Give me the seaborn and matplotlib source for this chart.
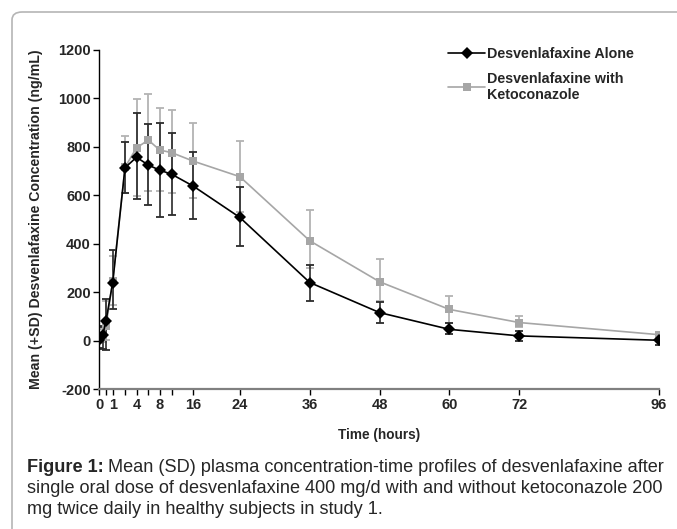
import numpy as np
import pandas as pd
import matplotlib
matplotlib.use("Agg")
import matplotlib.pyplot as plt
import seaborn as sns
from matplotlib.patches import FancyBboxPatch

# sampling times (hours)
times = [0, 0.25, 0.5, 1, 2, 4, 6, 8, 12, 16, 24, 36, 48, 60, 72, 96]

# desvenlafaxine alone: mean, lower and upper end of SD bar
alone = [5, 22, 82, 240, 713, 756, 724, 703, 686, 637, 508, 240, 116, 47, 20, 2]
alone_lo = [-28, -32, -40, 131, 607, 584, 559, 508, 518, 500, 390, 164, 75, 27, -2, -19]
alone_hi = [58, 60, 174, 373, 820, 937, 892, 899, 857, 776, 634, 314, 158, 75, 40, 18]

# desvenlafaxine with ketoconazole
keto = [10, 15, 60, 245, 715, 795, 827, 786, 775, 740, 676, 412, 243, 129, 75, 25]
keto_lo = [-10, -5, 5, 146, 610, 597, 617, 617, 607, 587, 531, 300, 163, 73, 57, 14]
keto_hi = [30, 50, 165, 348, 845, 995, 1017, 960, 951, 896, 824, 538, 336, 185, 102, 36]

lab_alone = "Desvenlafaxine Alone"
lab_keto = "Desvenlafaxine with\nKetoconazole"

df_alone = pd.DataFrame({"time": times, "conc": alone, "group": lab_alone})
df_keto = pd.DataFrame({"time": times, "conc": keto, "group": lab_keto})

sns.set_style("ticks")
plt.rcParams["font.family"] = ["Liberation Sans", "DejaVu Sans"]
plt.rcParams["axes.unicode_minus"] = False

fig = plt.figure(figsize=(6.77, 5.29), dpi=100)
ax = fig.add_axes([0.1467, 0.2641, 0.9734 - 0.1467, 0.9064 - 0.2641])

# stretched early part of the time axis, as in the original
anc_t = [0, 0.5, 1, 2, 4, 6, 8, 12, 16, 96]
anc_p = [99.3, 106, 112.7, 125, 136.5, 148.3, 159.6, 171.7, 193.3, 659]
ax.set_xscale("function", functions=(lambda t: np.interp(t, anc_t, anc_p),
                                     lambda p: np.interp(p, anc_p, anc_t)))

ax.errorbar(times, keto,
            yerr=[np.array(keto) - np.array(keto_lo), np.array(keto_hi) - np.array(keto)],
            fmt="none", ecolor="#b3b3b3", elinewidth=1.3, capsize=2.8, capthick=1.3, zorder=1)
ax.errorbar(times, alone,
            yerr=[np.array(alone) - np.array(alone_lo), np.array(alone_hi) - np.array(alone)],
            fmt="none", ecolor="#2b2b2b", elinewidth=1.2, capsize=2.8, capthick=1.3, zorder=2)

sns.lineplot(data=df_keto, x="time", y="conc", color="#a6a6a6", marker="s",
             markersize=5.5, markeredgewidth=0, linewidth=1.2, label=lab_keto,
             ax=ax, zorder=3)
sns.lineplot(data=df_alone, x="time", y="conc", color="black", marker="D",
             markersize=6.5, markeredgewidth=0, linewidth=1.2, label=lab_alone,
             ax=ax, zorder=4)

ax.set_xlim(0, 96)
ax.set_ylim(-200, 1200)
ax.set_yticks(range(-200, 1201, 200))
ax.set_xticks([0, 1, 4, 8, 16, 24, 36, 48, 60, 72, 96])
ax.set_xticks([0.5, 2, 6, 12], minor=True)
ax.set_xticklabels(["0", "1", "4", "8", "16", "24", "36", "48", "60", "72", "96"])
ax.tick_params(axis="both", which="both", direction="out", length=4, width=1,
               color="black", labelsize=10.5, pad=2)
for lb in ax.get_xticklabels() + ax.get_yticklabels():
    lb.set_fontweight("bold")

for s in ["top", "right"]:
    ax.spines[s].set_visible(False)
ax.spines["left"].set_color("black")
ax.spines["left"].set_linewidth(1)
ax.spines["bottom"].set_color("#808080")
ax.spines["bottom"].set_linewidth(1.6)

ax.set_xlabel("Time (hours)", fontsize=9.8, fontweight="bold", labelpad=12)
ax.set_ylabel("Mean (+SD) Desvenlafaxine Concentration (ng/mL)", fontsize=10.2,
              fontweight="bold", labelpad=11)

# legend in original order
h, l = ax.get_legend_handles_labels()
order = [l.index(lab_alone), l.index(lab_keto)]
ax.legend([h[i] for i in order], [l[i] for i in order], loc="upper left",
          bbox_to_anchor=(0.6, 1.045), frameon=False, handlelength=2.6,
          handletextpad=0.1, labelspacing=0.75, prop={"weight": "bold", "size": 10.3})

# outer frame with rounded corner
frame = FancyBboxPatch((12 / 677, -0.1), 1.2, 1.1 - 12 / 529,
                       boxstyle="round,pad=0,rounding_size=0.015",
                       transform=fig.transFigure, fill=False,
                       edgecolor="#b5b5b5", linewidth=1.2)
fig.patches.append(frame)

# caption
cap_fs = 13.1
x0 = 27 / 677
t1 = fig.text(x0, 1 - 471.5 / 529, "Figure 1:", fontsize=cap_fs, fontweight="bold",
              va="baseline")
fig.canvas.draw()
bb = t1.get_window_extent(fig.canvas.get_renderer())
fig.text(bb.x1 / 677 + 4 / 677, 1 - 471.5 / 529,
         "Mean (SD) plasma concentration-time profiles of desvenlafaxine after",
         fontsize=cap_fs, va="baseline")
fig.text(x0, 1 - 493 / 529,
         "single oral dose of desvenlafaxine 400 mg/d with and without ketoconazole 200",
         fontsize=cap_fs, va="baseline")
fig.text(x0, 1 - 514.5 / 529,
         "mg twice daily in healthy subjects in study 1.", fontsize=cap_fs, va="baseline")

fig.savefig("out.png", dpi=100)
